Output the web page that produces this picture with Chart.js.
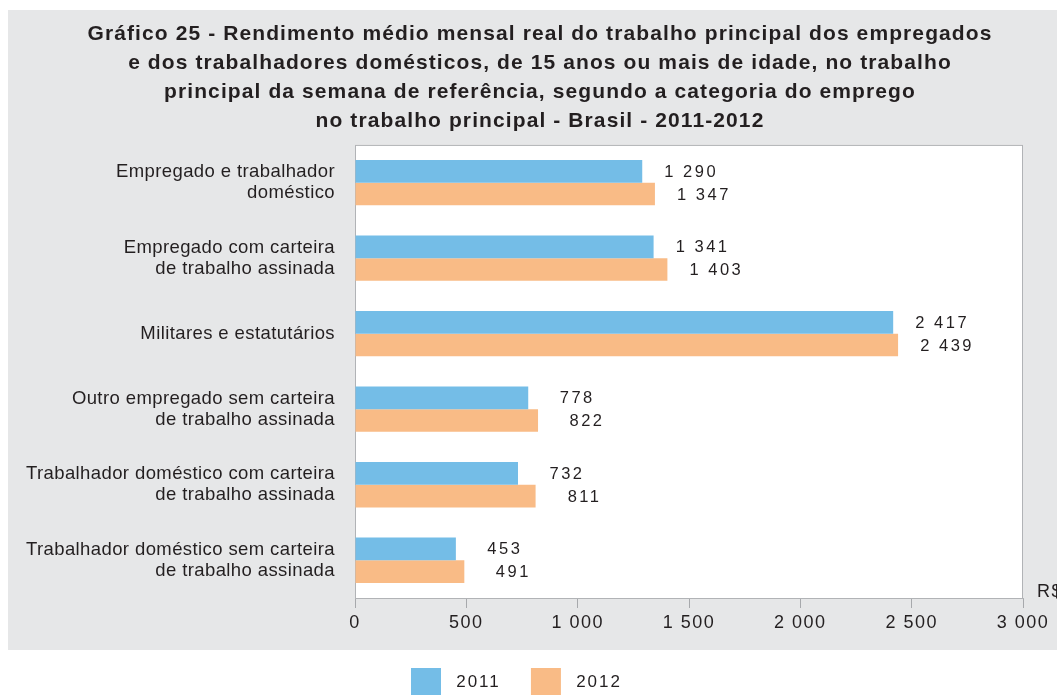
<!DOCTYPE html>
<html>
<head>
<meta charset="utf-8">
<script src="https://cdn.jsdelivr.net/npm/chart.js@4"></script>
<style>
  html, body { margin: 0; padding: 0; background: #fff; overflow: hidden; }
  #wrap { width: 1080px; height: 710px; }
</style>
</head>
<body>
<div id="wrap"><canvas id="rendimento-chart" width="1080" height="710"></canvas></div>
<script>
// /------------- Data -------------/
const categorias = [
    ['Empregado e trabalhador', 'doméstico'],
    ['Empregado com carteira', 'de trabalho assinada'],
    ['Militares e estatutários'],
    ['Outro empregado sem carteira', 'de trabalho assinada'],
    ['Trabalhador doméstico com carteira', 'de trabalho assinada'],
    ['Trabalhador doméstico sem carteira', 'de trabalho assinada']
];
const valores2011 = [1290, 1341, 2417, 778, 732, 453];
const valores2012 = [1347, 1403, 2439, 822, 811, 491];
const anos = ['2011', '2012'];
const eixoMin = 0;
const eixoMax = 3000;
const eixoPasso = 500;

const titulo = [
    'Gráfico 25 - Rendimento médio mensal real do trabalho principal dos empregados',
    'e dos trabalhadores domésticos, de 15 anos ou mais de idade, no trabalho',
    'principal da semana de referência, segundo a categoria do emprego',
    'no trabalho principal - Brasil - 2011-2012'
];

// /------------- Helpers -------------/
const fonte = "'Liberation Sans', Arial, sans-serif";
const corTexto = '#231f20';

function formatar(v) {
    return String(v).replace(/\B(?=(\d{3})+(?!\d))/g, ' ');
}

// the original typeface is wider than Liberation Sans, so letter spacing
// is added per font size whenever a font is set on the context
const espacamento = { '21': '1.1px', '18.5': '0.4px', '18': '1.5px', '17': '2px', '16.5': '2.5px' };

const ctxRendimento = document.querySelector('#rendimento-chart').getContext('2d');
const fontDesc = Object.getOwnPropertyDescriptor(CanvasRenderingContext2D.prototype, 'font');
Object.defineProperty(ctxRendimento, 'font', {
    get() { return fontDesc.get.call(this); },
    set(v) {
        fontDesc.set.call(this, v);
        const m = String(v).match(/([\d.]+)px/);
        this.letterSpacing = (m && espacamento[m[1]]) || '0px';
    }
});

// /------------- Plugins -------------/
const fundo = {
    id: 'fundo',
    afterLayout(chart) {
        // let the long category labels run into the left padding without clipping
        chart.scales.y.left = 0;
    },
    beforeDraw(chart) {
        const ctx = chart.ctx;
        const a = chart.chartArea;
        ctx.save();
        ctx.fillStyle = '#ffffff';
        ctx.fillRect(0, 0, chart.width, chart.height);
        ctx.fillStyle = '#e6e7e8';
        ctx.fillRect(8, 10, 1064, 640);
        ctx.fillStyle = '#ffffff';
        ctx.fillRect(a.left, a.top, a.right - a.left, a.bottom - a.top);
        ctx.strokeStyle = '#b1b3b6';
        ctx.lineWidth = 1;
        ctx.strokeRect(a.left + 0.5, a.top + 0.5, a.right - a.left - 1, a.bottom - a.top);
        ctx.fillStyle = corTexto;
        ctx.font = '18px ' + fonte;
        ctx.textAlign = 'left';
        ctx.textBaseline = 'middle';
        ctx.fillText('R$', a.right + 14, a.bottom - 6);
        ctx.restore();
    }
};

const rotulos = {
    id: 'rotulos',
    afterDatasetsDraw(chart) {
        const ctx = chart.ctx;
        ctx.save();
        ctx.fillStyle = corTexto;
        ctx.font = '16.5px ' + fonte;
        ctx.textAlign = 'center';
        ctx.textBaseline = 'middle';
        chart.data.datasets.forEach((ds, i) => {
            chart.getDatasetMeta(i).data.forEach((bar, j) => {
                ctx.fillText(formatar(ds.data[j]), bar.x + 49, bar.y + 1);
            });
        });
        ctx.restore();
    }
};

// /------------- Chart -------------/
new Chart(ctxRendimento, {
    type: 'bar',
    data: {
        labels: categorias,
        datasets: [{
            label: anos[0],
            data: valores2011,
            backgroundColor: '#74bde7',
            borderWidth: 0,
            categoryPercentage: 0.6,
            barPercentage: 1.0
        }, {
            label: anos[1],
            data: valores2012,
            backgroundColor: '#f9bb86',
            borderWidth: 0,
            categoryPercentage: 0.6,
            barPercentage: 1.0
        }]
    },
    plugins: [fundo, rotulos],
    options: {
        indexAxis: 'y',
        responsive: false,
        animation: false,
        layout: {
            padding: { left: 57, right: 57, top: 10, bottom: 4 }
        },
        scales: {
            x: {
                min: eixoMin,
                max: eixoMax,
                ticks: {
                    stepSize: eixoPasso,
                    color: corTexto,
                    font: { family: fonte, size: 18 },
                    padding: 4,
                    callback: (v) => formatar(v)
                },
                grid: {
                    drawOnChartArea: false,
                    drawTicks: true,
                    tickLength: 10,
                    color: '#a7a9ac'
                },
                border: { display: true, color: '#b1b3b6' },
                afterFit(scale) { scale.height = 60; }
            },
            y: {
                ticks: {
                    color: corTexto,
                    font: { family: fonte, size: 18.5, lineHeight: 1.14 },
                    padding: 20
                },
                grid: { display: false, drawTicks: false },
                border: { display: false },
                afterFit(scale) { scale.width = 298; }
            }
        },
        plugins: {
            title: {
                display: true,
                text: titulo,
                color: corTexto,
                font: { family: fonte, size: 21, weight: 'bold', lineHeight: 1.38 },
                padding: { top: 10, bottom: 9 }
            },
            legend: {
                display: true,
                position: 'bottom',
                labels: {
                    boxWidth: 30,
                    boxHeight: 28,
                    padding: 10,
                    color: corTexto,
                    font: { family: fonte, size: 17 },
                    generateLabels(chart) {
                        // trailing spaces only widen the items to the original spacing
                        const folga = ['   ', '       '];
                        return chart.data.datasets.map((ds, i) => ({
                            text: ' ' + ds.label + folga[i],
                            fillStyle: ds.backgroundColor,
                            strokeStyle: ds.backgroundColor,
                            lineWidth: 0,
                            fontColor: corTexto,
                            hidden: false,
                            datasetIndex: i
                        }));
                    }
                }
            },
            tooltip: { enabled: false }
        }
    }
});
</script>
</body>
</html>
